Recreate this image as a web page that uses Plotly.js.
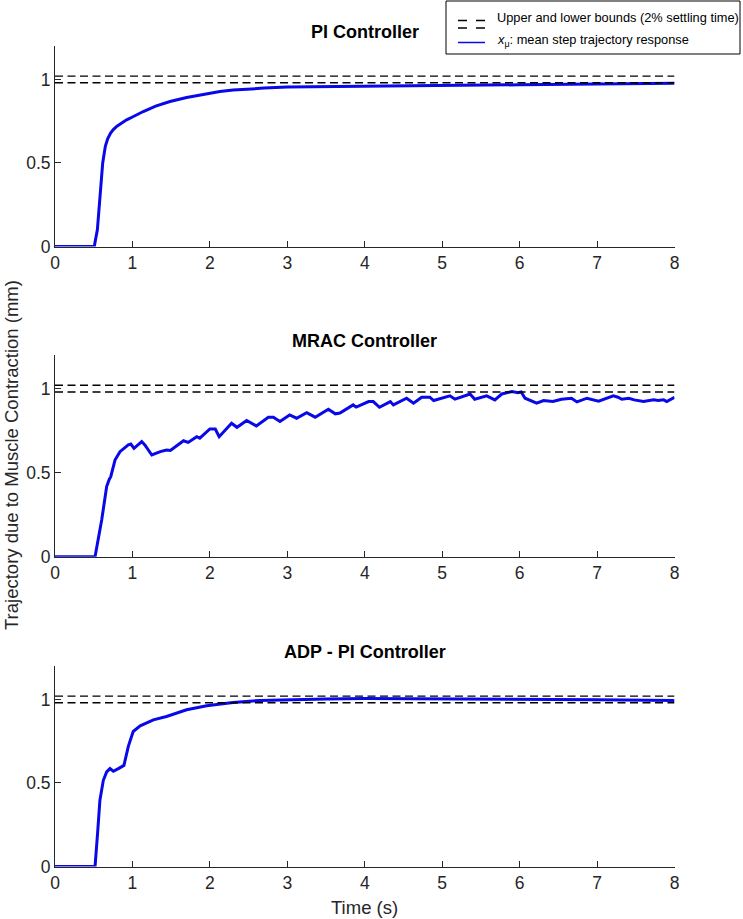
<!DOCTYPE html>
<html>
<head>
<meta charset="utf-8">
<script src="https://cdn.plot.ly/plotly-3.0.1.min.js"></script>
<style>html,body{margin:0;padding:0;background:#fff;}#chart{width:743px;height:919px;}</style>
</head>
<body>
<div id="chart"></div>
<script>
// ---- data ----
const panelTitles = ["PI Controller", "MRAC Controller", "ADP - PI Controller"];
const xTickVals = [0, 1, 2, 3, 4, 5, 6, 7, 8];
const yTickVals = [0, 0.5, 1];
const yTickText = ["0", "0.5", "1"];
const boundT = [0, 8];
const upperBound = [1.02, 1.02];
const lowerBound = [0.98, 0.98];
const legendLabels = ["Upper and lower bounds (2% settling time)", "<i>x</i><sub>μ</sub>: mean step trajectory response"];
const xTitle = "Time (s)";
const yTitle = "Trajectory due to Muscle Contraction (mm)";

const t1 = [0, 0.507, 0.547, 0.58, 0.616, 0.65, 0.68, 0.72, 0.753, 0.8, 0.925, 1.0, 1.14, 1.3, 1.485, 1.7, 1.87, 2.0, 2.13, 2.3, 2.475, 2.7, 3.0, 3.5, 4.0, 5.0, 6.0, 7.0, 8.0];
const v1 = [0, 0, 0.1, 0.3, 0.5, 0.6, 0.645, 0.68, 0.70, 0.72, 0.758, 0.775, 0.808, 0.84, 0.868, 0.892, 0.908, 0.918, 0.928, 0.936, 0.942, 0.948, 0.954, 0.957, 0.959, 0.963, 0.968, 0.973, 0.977];

const t2 = [0, 0.517, 0.603, 0.667, 0.70, 0.72, 0.775, 0.839, 0.947, 0.98, 1.02, 1.12, 1.16, 1.25, 1.36, 1.44, 1.49, 1.66, 1.72, 1.83, 1.87, 2.0, 2.07, 2.12, 2.28, 2.35, 2.475, 2.6, 2.755, 2.82, 2.905, 3.03, 3.12, 3.25, 3.36, 3.53, 3.62, 3.68, 3.85, 3.89, 4.05, 4.11, 4.19, 4.33, 4.37, 4.54, 4.63, 4.735, 4.84, 4.89, 5.1, 5.165, 5.36, 5.42, 5.575, 5.68, 5.77, 5.9, 5.98, 6.02, 6.07, 6.22, 6.31, 6.43, 6.54, 6.67, 6.74, 6.87, 7.02, 7.21, 7.27, 7.32, 7.41, 7.48, 7.6, 7.73, 7.79, 7.86, 7.9, 8.0];
const v2 = [0, 0, 0.218, 0.417, 0.46, 0.476, 0.575, 0.625, 0.665, 0.67, 0.645, 0.685, 0.665, 0.605, 0.625, 0.635, 0.632, 0.69, 0.68, 0.714, 0.705, 0.76, 0.76, 0.714, 0.794, 0.77, 0.81, 0.778, 0.83, 0.83, 0.804, 0.843, 0.824, 0.857, 0.83, 0.877, 0.85, 0.855, 0.903, 0.89, 0.923, 0.923, 0.889, 0.923, 0.903, 0.943, 0.913, 0.949, 0.949, 0.929, 0.957, 0.937, 0.968, 0.937, 0.957, 0.933, 0.968, 0.982, 0.976, 0.98, 0.943, 0.913, 0.929, 0.923, 0.937, 0.943, 0.921, 0.943, 0.925, 0.957, 0.949, 0.937, 0.943, 0.933, 0.923, 0.933, 0.929, 0.933, 0.923, 0.949];

const t3 = [0, 0.517, 0.55, 0.58, 0.624, 0.667, 0.71, 0.753, 0.818, 0.89, 0.947, 1.01, 1.1, 1.27, 1.44, 1.7, 1.96, 2.3, 2.65, 3.08, 3.5, 4.0, 5.0, 6.0, 7.0, 8.0];
const v3 = [0, 0, 0.2, 0.397, 0.516, 0.566, 0.586, 0.57, 0.586, 0.605, 0.719, 0.808, 0.842, 0.878, 0.898, 0.938, 0.962, 0.982, 0.994, 1.0, 1.003, 1.005, 1.004, 1.002, 0.998, 0.993];

// ---- styling / layout ----
const W = 743, H = 919;
const FONT = "Liberation Sans, Arial, Helvetica, sans-serif";
const BLUE = "rgb(8,8,232)";
const AX = "#262626";
const px = v => v / W;
const py = v => (H - v) / H;

const xDom = [px(55), px(674.5)];
const yDoms = [[py(246.5), py(46)], [py(556.7), py(355)], [py(866.5), py(666)]];
const series = [[t1, v1], [t2, v2], [t3, v3]];

const traces = [];
const layout = {
  width: W, height: H,
  margin: {l: 0, r: 0, t: 0, b: 0},
  paper_bgcolor: "#fff", plot_bgcolor: "#fff",
  font: {family: FONT, color: AX, size: 17},
  showlegend: false,
  annotations: [], shapes: []
};

series.forEach((s, i) => {
  const n = i === 0 ? "" : String(i + 1);
  const xa = "x" + n, ya = "y" + n;
  traces.push({x: s[0], y: s[1], xaxis: xa, yaxis: ya, type: "scatter", mode: "lines",
    line: {color: BLUE, width: 3}, hoverinfo: "skip"});
  traces.push({x: boundT, y: upperBound, xaxis: xa, yaxis: ya, type: "scatter", mode: "lines",
    line: {color: "#000", width: 1.3, dash: "8px,4.5px"}, hoverinfo: "skip"});
  traces.push({x: boundT, y: lowerBound, xaxis: xa, yaxis: ya, type: "scatter", mode: "lines",
    line: {color: "#000", width: 1.3, dash: "8px,4.5px"}, hoverinfo: "skip"});
  const common = {showgrid: false, zeroline: false, showline: true, linecolor: AX, linewidth: 1,
    ticks: "inside", ticklen: 6, tickcolor: AX, tickwidth: 1, tickfont: {size: 17.5, color: AX, family: FONT}};
  layout["xaxis" + n] = Object.assign({}, common, {domain: xDom, range: [0, 8], tickmode: "array",
    tickvals: xTickVals, anchor: ya});
  layout["yaxis" + n] = Object.assign({}, common, {domain: yDoms[i], range: [0, 1.2], tickmode: "array",
    tickvals: yTickVals, ticktext: yTickText, anchor: xa});
  layout.annotations.push({text: "<b>" + panelTitles[i] + "</b>", xref: xa + " domain", yref: ya + " domain",
    x: 0.5, y: 1, xanchor: "center", yanchor: "bottom", yshift: 2, showarrow: false,
    font: {size: 18, color: "#000", family: FONT}});
});

// axis titles
layout.annotations.push({text: xTitle, xref: "paper", yref: "paper", x: px(364.75), y: py(907),
  xanchor: "center", yanchor: "middle", showarrow: false, font: {size: 18.5, color: AX, family: FONT}});
layout.annotations.push({text: yTitle, xref: "paper", yref: "paper", x: px(11), y: py(455),
  xanchor: "center", yanchor: "middle", textangle: -90, showarrow: false, font: {size: 18.5, color: AX, family: FONT}});

// legend (drawn box)
layout.shapes.push({type: "rect", xref: "paper", yref: "paper", x0: px(446), x1: px(740), y0: py(54), y1: py(1),
  line: {color: "#000", width: 1}, fillcolor: "#fff", layer: "above"});
[20.5, 28].forEach(yy => layout.shapes.push({type: "line", xref: "paper", yref: "paper",
  x0: px(458), x1: px(485), y0: py(yy), y1: py(yy), line: {color: "#000", width: 1.3, dash: "9px,9px"}}));
layout.shapes.push({type: "line", xref: "paper", yref: "paper", x0: px(458), x1: px(485), y0: py(42.5), y1: py(42.5),
  line: {color: BLUE, width: 1.5}});
[17, 41].forEach((yy, k) => layout.annotations.push({text: legendLabels[k], xref: "paper", yref: "paper",
  x: px(495), y: py(yy), xanchor: "left", yanchor: "middle", showarrow: false,
  font: {size: 12.8, color: "#000", family: FONT}}));

Plotly.newPlot("chart", traces, layout, {staticPlot: true, displayModeBar: false});
</script>
</body>
</html>
